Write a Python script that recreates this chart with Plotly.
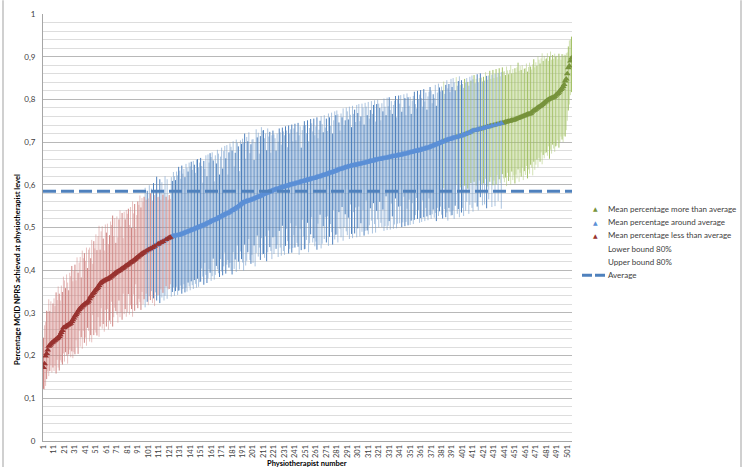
import plotly.graph_objects as go

# Overall mean share of patients reaching the MCID on NPRS
AVERAGE = 0.585

# Mean percentage per physiotherapist, sorted ascending
MEAN = [
    0.172, 0.181, 0.199, 0.205, 0.213, 0.222, 0.224, 0.227, 0.230, 0.232,
    0.234, 0.236, 0.238, 0.240, 0.242, 0.245, 0.249, 0.254, 0.259, 0.265,
    0.266, 0.268, 0.270, 0.271, 0.273, 0.274, 0.276, 0.280, 0.284, 0.288,
    0.293, 0.296, 0.300, 0.304, 0.308, 0.311, 0.313, 0.316, 0.318, 0.320,
    0.322, 0.323, 0.325, 0.328, 0.333, 0.338, 0.341, 0.345, 0.348, 0.351,
    0.354, 0.357, 0.360, 0.364, 0.368, 0.371, 0.373, 0.374, 0.376, 0.377,
    0.378, 0.379, 0.381, 0.382, 0.384, 0.386, 0.388, 0.390, 0.392, 0.394,
    0.396, 0.397, 0.399, 0.400, 0.402, 0.404, 0.405, 0.407, 0.409, 0.411,
    0.412, 0.414, 0.416, 0.418, 0.419, 0.421, 0.423, 0.425, 0.427, 0.429,
    0.431, 0.433, 0.435, 0.437, 0.439, 0.440, 0.442, 0.443, 0.445, 0.446,
    0.448, 0.449, 0.450, 0.451, 0.453, 0.454, 0.456, 0.458, 0.459, 0.461,
    0.462, 0.463, 0.465, 0.466, 0.467, 0.469, 0.470, 0.472, 0.473, 0.475,
    0.476, 0.477, 0.478, 0.479, 0.480, 0.480, 0.481, 0.481, 0.482, 0.482,
    0.483, 0.484, 0.485, 0.486, 0.487, 0.488, 0.489, 0.490, 0.491, 0.492,
    0.493, 0.494, 0.495, 0.496, 0.497, 0.498, 0.499, 0.500, 0.501, 0.502,
    0.503, 0.504, 0.505, 0.506, 0.507, 0.509, 0.510, 0.511, 0.512, 0.514,
    0.515, 0.516, 0.517, 0.518, 0.519, 0.520, 0.522, 0.523, 0.524, 0.526,
    0.527, 0.528, 0.529, 0.531, 0.532, 0.533, 0.534, 0.536, 0.537, 0.539,
    0.540, 0.542, 0.543, 0.545, 0.546, 0.548, 0.550, 0.552, 0.554, 0.556,
    0.558, 0.559, 0.560, 0.561, 0.562, 0.562, 0.563, 0.564, 0.565, 0.566,
    0.567, 0.568, 0.569, 0.570, 0.571, 0.572, 0.573, 0.574, 0.575, 0.577,
    0.578, 0.579, 0.580, 0.581, 0.582, 0.583, 0.584, 0.585, 0.586, 0.587,
    0.588, 0.589, 0.590, 0.590, 0.591, 0.592, 0.593, 0.594, 0.594, 0.595,
    0.596, 0.597, 0.597, 0.598, 0.599, 0.600, 0.600, 0.601, 0.602, 0.602,
    0.603, 0.604, 0.604, 0.605, 0.606, 0.607, 0.607, 0.608, 0.609, 0.609,
    0.610, 0.611, 0.611, 0.612, 0.613, 0.614, 0.614, 0.615, 0.615, 0.616,
    0.617, 0.618, 0.619, 0.619, 0.620, 0.621, 0.622, 0.623, 0.623, 0.624,
    0.625, 0.626, 0.627, 0.628, 0.628, 0.629, 0.630, 0.631, 0.632, 0.633,
    0.634, 0.635, 0.636, 0.637, 0.637, 0.638, 0.639, 0.640, 0.641, 0.641,
    0.642, 0.643, 0.643, 0.644, 0.645, 0.645, 0.646, 0.646, 0.647, 0.647,
    0.648, 0.649, 0.649, 0.650, 0.650, 0.651, 0.651, 0.652, 0.653, 0.653,
    0.654, 0.655, 0.655, 0.656, 0.656, 0.657, 0.658, 0.658, 0.659, 0.659,
    0.660, 0.660, 0.661, 0.661, 0.662, 0.662, 0.663, 0.663, 0.664, 0.664,
    0.665, 0.665, 0.666, 0.666, 0.667, 0.667, 0.668, 0.668, 0.669, 0.669,
    0.670, 0.670, 0.671, 0.672, 0.672, 0.673, 0.673, 0.674, 0.675, 0.675,
    0.676, 0.676, 0.677, 0.678, 0.678, 0.679, 0.679, 0.680, 0.681, 0.681,
    0.682, 0.683, 0.683, 0.684, 0.685, 0.686, 0.686, 0.687, 0.688, 0.689,
    0.690, 0.691, 0.692, 0.693, 0.694, 0.695, 0.696, 0.697, 0.698, 0.699,
    0.700, 0.701, 0.702, 0.703, 0.704, 0.705, 0.706, 0.706, 0.707, 0.708,
    0.709, 0.710, 0.710, 0.711, 0.712, 0.712, 0.713, 0.714, 0.714, 0.715,
    0.716, 0.717, 0.718, 0.719, 0.720, 0.721, 0.722, 0.723, 0.724, 0.726,
    0.727, 0.727, 0.728, 0.728, 0.729, 0.730, 0.730, 0.731, 0.731, 0.732,
    0.733, 0.734, 0.734, 0.735, 0.736, 0.736, 0.737, 0.738, 0.738, 0.739,
    0.740, 0.740, 0.741, 0.742, 0.742, 0.743, 0.744, 0.744, 0.745, 0.745,
    0.746, 0.747, 0.747, 0.748, 0.749, 0.749, 0.750, 0.751, 0.751, 0.752,
    0.753, 0.754, 0.755, 0.756, 0.757, 0.758, 0.759, 0.760, 0.761, 0.762,
    0.763, 0.764, 0.765, 0.766, 0.766, 0.767, 0.770, 0.772, 0.774, 0.775,
    0.777, 0.779, 0.781, 0.783, 0.784, 0.786, 0.788, 0.790, 0.792, 0.794,
    0.796, 0.798, 0.800, 0.801, 0.802, 0.803, 0.804, 0.805, 0.807, 0.810,
    0.812, 0.814, 0.817, 0.820, 0.823, 0.826, 0.830, 0.835, 0.843, 0.848,
    0.860, 0.874, 0.878, 0.890, 0.897,
]

# Distance from the mean up to the upper 80% bound
ERR_PLUS = [
    .07, .09, .08, .10, .09, .11, .08, .10, .07, .09,
    .10, .08, .11, .09, .12, .10, .08, .11, .09, .12,
    .11, .09, .12, .10, .08, .12, .11, .13, .09, .11,
    .12, .08, .13, .09, .11, .12, .07, .13, .11, .12,
    .10, .13, .08, .12, .12, .09, .13, .07, .12, .10,
    .13, .09, .12, .14, .08, .12, .13, .10, .07, .13,
    .11, .13, .08, .10, .13, .12, .14, .09, .13, .07,
    .13, .08, .12, .14, .10, .13, .07, .13, .11, .13,
    .12, .13, .09, .13, .08, .14, .11, .13, .07, .10,
    .13, .12, .14, .11, .13, .12, .13, .15, .12, .14,
    .12, .15, .13, .14, .11, .15, .12, .13, .16, .11,
    .11, .15, .10, .14, .11, .12, .15, .10, .14, .09,
    .10, .09, .14, .13, .15, .14, .13, .15, .14, .16,
    .15, .13, .16, .14, .15, .13, .16, .15, .14, .16,
    .15, .16, .14, .16, .15, .13, .16, .16, .14, .15,
    .16, .14, .10, .15, .13, .16, .11, .16, .14, .16,
    .15, .16, .14, .09, .15, .13, .16, .15, .10, .14,
    .16, .11, .15, .16, .13, .16, .09, .14, .16, .15,
    .14, .16, .10, .13, .16, .15, .14, .08, .15, .14,
    .15, .14, .16, .10, .15, .14, .16, .11, .13, .14,
    .14, .09, .13, .16, .14, .15, .10, .14, .16, .15,
    .15, .13, .14, .10, .15, .13, .14, .09, .13, .14,
    .13, .12, .09, .13, .11, .14, .13, .10, .14, .13,
    .12, .14, .13, .09, .14, .12, .13, .14, .10, .13,
    .14, .10, .12, .14, .11, .13, .08, .12, .13, .14,
    .13, .11, .14, .09, .12, .14, .13, .11, .14, .10,
    .12, .14, .09, .11, .13, .14, .12, .10, .14, .11,
    .13, .10, .14, .13, .11, .14, .09, .12, .14, .13,
    .14, .13, .11, .09, .13, .12, .14, .10, .11, .14,
    .13, .11, .14, .12, .09, .14, .12, .13, .10, .14,
    .12, .14, .10, .11, .14, .13, .09, .14, .13, .11,
    .14, .10, .12, .14, .11, .13, .14, .09, .13, .14,
    .13, .12, .09, .13, .11, .14, .12, .10, .14, .12,
    .14, .11, .13, .10, .12, .13, .14, .09, .13, .14,
    .12, .14, .10, .11, .14, .13, .09, .14, .13, .11,
    .13, .09, .12, .13, .14, .11, .10, .14, .12, .13,
    .14, .12, .10, .14, .11, .13, .09, .12, .13, .14,
    .13, .10, .12, .11, .14, .09, .12, .14, .13, .12,
    .13, .12, .14, .11, .13, .14, .12, .13, .11, .14,
    .12, .14, .13, .11, .14, .12, .13, .14, .12, .13,
    .12, .11, .13, .12, .13, .12, .11, .13, .12, .13,
    .12, .13, .11, .12, .13, .11, .12, .13, .12, .11,
    .12, .11, .13, .12, .11, .12, .13, .11, .12, .13,
    .11, .12, .13, .11, .12, .13, .11, .12, .13, .12,
    .12, .11, .13, .12, .11, .12, .13, .11, .12, .11,
    .12, .11, .12, .13, .11, .12, .11, .12, .10, .11,
    .11, .12, .10, .11, .12, .11, .10, .11, .12, .10,
    .11, .10, .12, .11, .10, .11, .12, .10, .11, .10,
    .10, .11, .09, .10, .11, .09, .10, .09, .10, .09,
    .09, .08, .09, .08, .07, .08, .07, .07, .06, .06,
    .05, .05, .06, .05, .05,
]

# Distance from the mean down to the lower 80% bound
ERR_MINUS = [
    .05, .06, .07, .06, .05, .07, .06, .05, .07, .06,
    .07, .06, .08, .05, .07, .08, .06, .07, .08, .06,
    .08, .06, .07, .09, .07, .06, .08, .07, .09, .08,
    .09, .06, .08, .10, .05, .09, .07, .10, .06, .09,
    .08, .10, .06, .07, .10, .09, .11, .05, .10, .09,
    .10, .11, .07, .12, .10, .06, .11, .10, .12, .07,
    .11, .07, .12, .10, .11, .06, .12, .10, .08, .09,
    .10, .12, .07, .11, .10, .12, .06, .11, .10, .12,
    .11, .07, .12, .10, .11, .13, .08, .12, .06, .11,
    .12, .10, .11, .13, .09, .12, .11, .13, .10, .12,
    .13, .11, .12, .10, .13, .12, .14, .11, .13, .12,
    .12, .14, .11, .13, .12, .14, .13, .11, .14, .12,
    .12, .11, .14, .13, .12, .14, .13, .12, .14, .13,
    .13, .12, .14, .13, .12, .14, .13, .14, .12, .13,
    .14, .12, .13, .14, .12, .13, .14, .12, .14, .13,
    .13, .10, .12, .14, .09, .12, .14, .13, .11, .12,
    .14, .13, .09, .14, .13, .11, .12, .13, .14, .10,
    .13, .14, .12, .09, .14, .12, .11, .13, .12, .14,
    .15, .10, .14, .12, .15, .09, .13, .15, .11, .13,
    .14, .16, .10, .15, .14, .12, .09, .14, .15, .13,
    .15, .11, .16, .13, .09, .14, .12, .15, .10, .14,
    .14, .15, .10, .16, .14, .09, .13, .14, .16, .11,
    .15, .11, .14, .13, .16, .10, .14, .16, .09, .15,
    .16, .14, .10, .13, .16, .15, .09, .16, .15, .12,
    .15, .10, .14, .15, .17, .11, .16, .09, .13, .16,
    .16, .14, .10, .17, .15, .13, .09, .15, .14, .16,
    .15, .17, .11, .16, .09, .17, .16, .12, .15, .10,
    .16, .10, .17, .15, .12, .14, .17, .09, .16, .15,
    .15, .17, .10, .14, .16, .09, .17, .14, .11, .15,
    .16, .12, .17, .09, .16, .17, .11, .16, .10, .17,
    .15, .10, .17, .14, .16, .11, .17, .16, .09, .16,
    .17, .15, .11, .14, .17, .10, .15, .17, .12, .14,
    .16, .10, .15, .16, .12, .17, .16, .09, .17, .16,
    .15, .17, .11, .14, .17, .16, .10, .17, .16, .12,
    .16, .12, .17, .16, .10, .17, .16, .13, .17, .11,
    .17, .16, .12, .17, .16, .15, .11, .16, .14, .17,
    .16, .17, .12, .16, .17, .14, .16, .17, .12, .16,
    .17, .16, .15, .17, .16, .18, .15, .17, .16, .15,
    .17, .18, .11, .16, .18, .17, .19, .16, .17, .18,
    .18, .17, .19, .16, .11, .18, .17, .19, .12, .18,
    .17, .19, .12, .18, .16, .13, .19, .17, .12, .18,
    .19, .12, .17, .13, .18, .19, .12, .16, .13, .18,
    .13, .18, .12, .19, .14, .17, .13, .12, .19, .14,
    .13, .19, .14, .12, .18, .13, .14, .20, .12, .13,
    .14, .13, .15, .12, .14, .13, .15, .12, .14, .13,
    .15, .13, .14, .12, .15, .13, .14, .12, .15, .13,
    .14, .12, .15, .13, .14, .12, .13, .15, .12, .14,
    .13, .12, .14, .12, .13, .11, .14, .12, .13, .12,
    .12, .13, .11, .14, .12, .13, .11, .12, .13, .12,
    .12, .11, .13, .12, .11, .12, .13, .12, .13, .12,
    .11, .10, .09, .08, .08,
]

assert len(MEAN) == len(ERR_PLUS) == len(ERR_MINUS)

PHYSIO = list(range(1, len(MEAN) + 1))
X_TICKS = list(range(1, len(MEAN) + 1, 10))
Y_TICKS = [0, 0.1, 0.2, 0.3, 0.4, 0.5, 0.6, 0.7, 0.8, 0.9, 1]
Y_LABELS = ["0", "0,1", "0,2", "0,3", "0,4", "0,5", "0,6", "0,7", "0,8", "0,9", "1"]

# Group physiotherapists by where their 80% interval lies relative to the average
groups = {"more": [], "around": [], "less": []}
for i, m in enumerate(MEAN):
    lo = m - ERR_MINUS[i]
    hi = m + ERR_PLUS[i]
    if lo > AVERAGE:
        groups["more"].append(i)
    elif hi < AVERAGE:
        groups["less"].append(i)
    else:
        groups["around"].append(i)

# key, legend name, marker colour, light whisker colour, strong whisker colour
SERIES = [
    ("more", "Mean percentage more than average", "#77933c",
     "rgba(170,200,110,0.5)", "#a3c166"),
    ("around", "Mean percentage around average", "#5b8fd6",
     "rgba(120,160,205,0.62)", "#4f81bd"),
    ("less", "Mean percentage less than average", "#993330",
     "rgba(205,120,118,0.45)", "#cf8583"),
]

fig = go.Figure()
for key, name, mcol, light, strong in SERIES:
    idx = groups[key]
    # whiskers: every third one is rendered stronger, the rest lighter
    for sub, col in ((
        [i for i in idx if i % 3 != 0], light), ([i for i in idx if i % 3 == 0], strong)):
        fig.add_trace(go.Scatter(
            x=[PHYSIO[i] for i in sub],
            y=[MEAN[i] for i in sub],
            mode="markers",
            marker=dict(size=1, opacity=0),
            error_y=dict(
                type="data", symmetric=False,
                array=[ERR_PLUS[i] for i in sub],
                arrayminus=[ERR_MINUS[i] for i in sub],
                color=col, thickness=1, width=0,
            ),
            hoverinfo="skip", showlegend=False,
        ))
    fig.add_trace(go.Scatter(
        x=[PHYSIO[i] for i in idx],
        y=[MEAN[i] for i in idx],
        mode="markers",
        name=name,
        marker=dict(symbol="triangle-up", size=6, color=mcol, line=dict(width=0)),
        hoverinfo="skip",
    ))

# Dashed line at the overall average
fig.add_shape(type="line", xref="paper", yref="y", x0=0, x1=1, y0=AVERAGE, y1=AVERAGE,
              line=dict(color="#4f81bd", width=3, dash="13px,5px"))

PLOT_L, PLOT_R, PLOT_T, PLOT_B = 43, 572, 9, 441
W, H = 746, 467


def px(x):
    return (x - PLOT_L) / (PLOT_R - PLOT_L)


def py(y):
    return (PLOT_B - y) / (PLOT_B - PLOT_T)


# Legend drawn beside the plot
legend_rows = [
    ("Mean percentage more than average", "#77933c", 206),
    ("Mean percentage around average", "#5b8fd6", 219.5),
    ("Mean percentage less than average", "#993330", 233),
    ("Lower bound 80%", None, 246.3),
    ("Upper bound 80%", None, 259.8),
    ("Average", None, 273.3),
]
annotations = []
for text, col, ypos in legend_rows:
    annotations.append(dict(x=px(606), y=py(ypos), xref="paper", yref="paper",
                            text=text, showarrow=False, xanchor="left", yanchor="middle",
                            font=dict(size=8, color="#404040")))
    if col:
        annotations.append(dict(x=px(595), y=py(ypos), xref="paper", yref="paper",
                                text="▲", showarrow=False, xanchor="center", yanchor="middle",
                                font=dict(size=6, color=col, family="DejaVu Sans")))
fig.add_shape(type="line", xref="paper", yref="paper", x0=px(582), x1=px(605),
              y0=py(273.3), y1=py(273.3),
              line=dict(color="#4f81bd", width=3, dash="10px,3px"))

# Axis titles
annotations.append(dict(x=px(17), y=py(268), xref="paper", yref="paper",
                        text="<b>Percentage MCID NPRS achieved at physiotherapist level</b>",
                        textangle=-90, showarrow=False, xanchor="center", yanchor="middle",
                        font=dict(size=7.5, color="#000000")))
annotations.append(dict(x=px(307), y=py(464), xref="paper", yref="paper",
                        text="<b>Physiotherapist number</b>", showarrow=False,
                        xanchor="center", yanchor="middle",
                        font=dict(size=7.5, color="#000000")))

# Outer chart border (left and right edges)
for bx in (3, 741):
    fig.add_shape(type="line", xref="paper", yref="paper", x0=px(bx), x1=px(bx),
                  y0=py(H + 5), y1=py(-5), line=dict(color="#d0d0d0", width=2))

fig.update_layout(
    width=W, height=H,
    margin=dict(l=PLOT_L, r=W - PLOT_R, t=PLOT_T, b=H - PLOT_B, pad=0),
    paper_bgcolor="white", plot_bgcolor="white",
    showlegend=False,
    font=dict(family="Lato, 'Open Sans', sans-serif", color="#404040"),
    annotations=annotations,
    xaxis=dict(
        range=[0.5, len(MEAN) + 0.5],
        tickmode="array", tickvals=X_TICKS, ticktext=[str(v) for v in X_TICKS],
        tickangle=-90, tickfont=dict(size=7.5, color="#404040"),
        showgrid=False, zeroline=False, showline=True, linecolor="#a6a6a6", linewidth=1,
        ticks="",
    ),
    yaxis=dict(
        range=[0, 1],
        tickmode="array", tickvals=Y_TICKS, ticktext=Y_LABELS,
        tickfont=dict(size=8, color="#404040"),
        showgrid=True, gridcolor="#b8b8b8", gridwidth=1,
        minor=dict(dtick=0.02, tick0=0, showgrid=True, gridcolor="#dddddd", gridwidth=1),
        zeroline=False, showline=True, linecolor="#a6a6a6", linewidth=1,
        ticks="", ticklabelstandoff=5,
    ),
)

fig.write_html("out.html")
